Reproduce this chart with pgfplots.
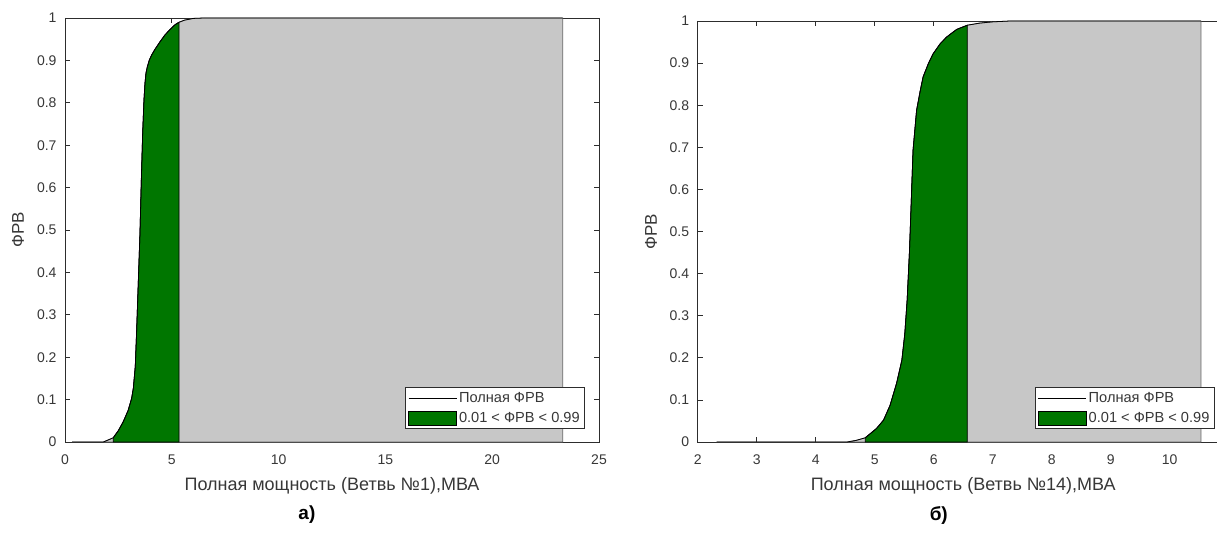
\documentclass[border=0pt]{standalone}
\usepackage{fontspec}
\setmainfont{Liberation Sans}
\usepackage{pgfplots}
\usepackage{pgfplotstable}
\pgfplotsset{compat=1.18}
\definecolor{mgreen}{RGB}{0,118,0}
\definecolor{mgray}{RGB}{199,199,199}
\definecolor{medge}{RGB}{100,100,100}
\definecolor{axc}{RGB}{45,45,45}
\definecolor{txc}{RGB}{55,55,55}

\pgfplotstableread{
x y
0.33 0
1.79 0
2.03 0.005
2.26 0.01
2.50 0.027
2.73 0.048
2.96 0.075
3.12 0.103
3.20 0.127
3.29 0.178
3.35 0.256
3.43 0.374
3.51 0.492
3.57 0.61
3.636 0.728
3.698 0.807
3.745 0.846
3.792 0.870
3.855 0.885
3.95 0.901
4.06 0.913
4.21 0.926
4.45 0.944
4.68 0.960
4.92 0.973
5.15 0.984
5.34 0.990
5.60 0.995
6.00 0.999
6.50 1
23.3 1
}\cdfA

\pgfplotstableread{
x y
2.26 0.01
2.50 0.027
2.73 0.048
2.96 0.075
3.12 0.103
3.20 0.127
3.29 0.178
3.35 0.256
3.43 0.374
3.51 0.492
3.57 0.61
3.636 0.728
3.698 0.807
3.745 0.846
3.792 0.870
3.855 0.885
3.95 0.901
4.06 0.913
4.21 0.926
4.45 0.944
4.68 0.960
4.92 0.973
5.15 0.984
5.34 0.990
}\greenA

\pgfplotstableread{
x y
2.32 0
4.53 0
4.69 0.004
4.84 0.01
5.03 0.032
5.15 0.052
5.26 0.087
5.37 0.139
5.46 0.194
5.51 0.257
5.55 0.337
5.59 0.455
5.62 0.574
5.65 0.693
5.71 0.788
5.77 0.833
5.82 0.867
5.91 0.899
5.99 0.922
6.11 0.946
6.22 0.962
6.39 0.980
6.57 0.990
6.78 0.995
7.00 0.998
7.30 1
10.53 1
}\cdfB

\pgfplotstableread{
x y
4.84 0.01
5.03 0.032
5.15 0.052
5.26 0.087
5.37 0.139
5.46 0.194
5.51 0.257
5.55 0.337
5.59 0.455
5.62 0.574
5.65 0.693
5.71 0.788
5.77 0.833
5.82 0.867
5.91 0.899
5.99 0.922
6.11 0.946
6.22 0.962
6.39 0.980
6.57 0.990
}\greenB

\pgfplotsset{
  linelegend/.style={legend image code/.code={\draw[black, line width=0.7pt] (0pt,0pt) -- (48pt,0pt);}},
  boxlegend/.style={legend image code/.code={\draw[fill=mgreen, draw=black, line width=0.6pt] (0pt,-7pt) rectangle (48pt,7pt);}},
  cdf/.style={
  scale only axis,
  clip mode=individual,
  axis line style={axc, line width=0.7pt},
  ymin=0, ymax=1,
  ytick={0,0.1,0.2,0.3,0.4,0.5,0.6,0.7,0.8,0.9,1},
  tick align=inside, major tick length=5pt,
  tick style={axc, line width=0.7pt},
  /pgf/number format/assume math mode=true,
  tick label style={font=\fontsize{14}{16}\selectfont, text=txc},
  xticklabel style={yshift=-9pt},
  yticklabel style={xshift=-5pt},
  xlabel style={font=\fontsize{18}{21}\selectfont, text=txc, at={(axis description cs:0.5,-0.104)}, anchor=center},
  ylabel style={font=\fontsize{17}{20}\selectfont, text=txc, at={(axis description cs:-0.088,0.5)}, anchor=center},
  legend style={at={(1,0)}, anchor=south east, xshift=-14pt, yshift=13pt,
    draw=axc, line width=0.6pt, fill=white,
    font=\fontsize{14.6}{16}\selectfont, text=txc,
    inner xsep=3pt, inner ysep=3pt, row sep=4pt,
    nodes={inner xsep=2pt, inner ysep=2pt}},
  legend cell align=left,
}}

\begin{document}
\begin{tikzpicture}
\useasboundingbox (0pt,0pt) rectangle (1217pt,533pt);
\clip (0pt,0pt) rectangle (1217pt,533pt);

\begin{axis}[cdf, at={(65pt,91pt)}, anchor=south west,
  width=534pt, height=424pt,
  xmin=0, xmax=25, xtick={0,5,10,15,20,25},
  xlabel={Полная мощность (Ветвь №1),МВА}, ylabel={ФРВ}]
\addplot[fill=mgray, draw=medge, line width=0.7pt, forget plot] table[x=x,y=y] {\cdfA} \closedcycle;
\addplot[fill=mgreen, draw=black, line width=0.7pt, forget plot] table[x=x,y=y] {\greenA} \closedcycle;
\addplot[black, line width=0.8pt, line join=round, forget plot] table[x=x,y=y] {\cdfA};
\addlegendimage{linelegend}
\addlegendentry{Полная ФРВ}
\addlegendimage{boxlegend}
\addlegendentry{0.01 < ФРВ < 0.99}
\node[font=\bfseries\fontsize{19}{22}\selectfont] at (axis description cs:0.453,-0.172) {а)};
\end{axis}

\begin{axis}[cdf, at={(697.7pt,91pt)}, anchor=south west,
  width=531pt, height=421pt,
  xmin=2, xmax=11, xtick={2,3,4,5,6,7,8,9,10},
  xlabel={Полная мощность (Ветвь №14),МВА}, ylabel={ФРВ}]
\addplot[fill=mgray, draw=medge, line width=0.7pt, forget plot] table[x=x,y=y] {\cdfB} \closedcycle;
\addplot[fill=mgreen, draw=black, line width=0.7pt, forget plot] table[x=x,y=y] {\greenB} \closedcycle;
\addplot[black, line width=0.8pt, line join=round, forget plot] table[x=x,y=y] {\cdfB};
\addlegendimage{linelegend}
\addlegendentry{Полная ФРВ}
\addlegendimage{boxlegend}
\addlegendentry{0.01 < ФРВ < 0.99}
\node[font=\bfseries\fontsize{19}{22}\selectfont] at (axis description cs:0.454,-0.174) {б)};
\end{axis}
\end{tikzpicture}
\end{document}
